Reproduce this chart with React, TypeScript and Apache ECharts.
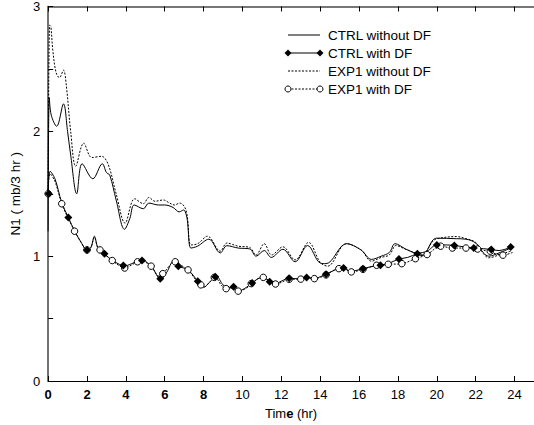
import React, { useEffect, useRef } from "react";
import * as echarts from "echarts";

const FONT = "Liberation Sans, Arial, sans-serif";

// time (hr), N1 (mb/3 hr)
const ctrlNoDF: [number, number][] = [
  [0, 1.2], [0.06, 2.27], [0.16, 2.13], [0.44, 2.04], [0.79, 2.22], [1.0, 2.0], [1.16, 1.81],
  [1.47, 1.5], [1.75, 1.74], [2.3, 1.62], [2.79, 1.74], [3.0, 1.67], [3.17, 1.65], [3.5, 1.45],
  [3.93, 1.215], [4.2, 1.3], [4.43, 1.41], [4.9, 1.38], [5.18, 1.425], [5.68, 1.41], [6.0, 1.41],
  [6.43, 1.39], [6.74, 1.355], [6.97, 1.37], [7.15, 1.3], [7.35, 1.065], [7.69, 1.08], [8.27, 1.136],
  [8.86, 1.026], [9.2, 1.084], [9.78, 1.065], [10.37, 1.058], [10.7, 1.0], [11.12, 1.045],
  [11.48, 0.99], [12.08, 1.055], [12.71, 0.955], [13.35, 1.085], [14.0, 0.945], [14.3, 0.94],
  [15.35, 1.1], [16.1, 1.05], [16.64, 0.974], [17.14, 1.0], [17.56, 1.03], [17.85, 1.1],
  [18.4, 1.057], [19.0, 1.015], [19.24, 1.005], [19.8, 1.13], [20.0, 1.144], [21.0, 1.14],
  [21.5, 1.136], [22.0, 1.105], [22.4, 1.026], [22.67, 1.0], [23.2, 1.026], [23.8, 1.065],
];

const exp1NoDF: [number, number][] = [
  [0, 1.5], [0.08, 2.85], [0.14, 2.84], [0.24, 2.65], [0.41, 2.47], [0.58, 2.43], [0.79, 2.49],
  [0.94, 2.36], [1.16, 2.0], [1.42, 1.72], [1.83, 1.905], [2.25, 1.79], [2.75, 1.8], [3.09, 1.735],
  [3.5, 1.5], [3.96, 1.265], [4.45, 1.46], [4.9, 1.42], [5.18, 1.47], [5.5, 1.44], [5.93, 1.45],
  [6.2, 1.43], [6.5, 1.41], [6.77, 1.425], [7.0, 1.4], [7.15, 1.33], [7.35, 1.09], [7.7, 1.1],
  [8.2, 1.16], [8.86, 1.04], [9.2, 1.105], [9.78, 1.08], [10.37, 1.07], [10.7, 1.01], [11.12, 1.1],
  [11.5, 1.01], [12.08, 1.075], [12.71, 0.97], [13.4, 1.11], [14.0, 0.95], [14.38, 0.92],
  [15.35, 1.1], [16.1, 1.05], [16.64, 0.96], [17.14, 0.99], [17.56, 1.01], [17.9, 1.085],
  [18.4, 1.055], [19.0, 1.02], [19.24, 1.01], [19.8, 1.12], [20.0, 1.14], [21.0, 1.157],
  [21.5, 1.14], [22.0, 1.11], [22.4, 1.02], [22.67, 0.987], [23.2, 1.01], [23.8, 1.04],
];

const ctrlDF: [number, number][] = [
  [0, 1.5], [0.1, 1.68], [0.35, 1.62], [0.7, 1.43], [1.04, 1.31], [1.37, 1.2], [1.7, 1.11],
  [2.0, 1.05], [2.2, 1.07], [2.38, 1.16], [2.55, 1.07], [2.7, 1.05], [2.9, 1.02], [3.3, 0.965],
  [3.6, 0.94], [3.9, 0.92], [4.3, 0.94], [4.8, 0.97], [5.3, 0.92], [5.8, 0.815], [6.1, 0.87],
  [6.45, 0.96], [6.7, 0.92], [7.2, 0.89], [7.7, 0.8], [8.0, 0.75], [8.3, 0.79], [8.65, 0.84],
  [9.0, 0.77], [9.3, 0.745], [9.55, 0.756], [9.85, 0.725], [10.2, 0.75], [10.5, 0.785],
  [10.8, 0.82], [11.05, 0.83], [11.4, 0.795], [11.7, 0.78], [12.0, 0.8], [12.4, 0.824],
  [12.7, 0.82], [13.0, 0.818], [13.3, 0.83], [13.7, 0.822], [14.0, 0.835], [14.3, 0.856],
  [14.7, 0.885], [15.1, 0.908], [15.6, 0.88], [16.2, 0.9], [16.6, 0.915], [17.1, 0.927],
  [17.5, 0.94], [18.0, 0.975], [18.5, 0.99], [19.0, 1.02], [19.5, 1.04], [20.0, 1.09],
  [20.5, 1.09], [20.9, 1.085], [21.4, 1.075], [21.9, 1.065], [22.4, 1.06], [22.8, 1.053],
  [23.2, 1.045], [23.5, 1.055], [23.9, 1.075],
];

const exp1DF: [number, number][] = [
  [0, 1.5], [0.1, 1.66], [0.35, 1.6], [0.7, 1.42], [1.04, 1.3], [1.37, 1.2], [1.7, 1.11],
  [2.0, 1.05], [2.2, 1.07], [2.38, 1.15], [2.55, 1.07], [2.7, 1.05], [2.9, 1.015], [3.3, 0.965],
  [3.6, 0.93], [3.94, 0.905], [4.3, 0.93], [4.6, 0.955], [4.8, 0.96], [5.3, 0.92], [5.7, 0.84],
  [5.9, 0.86], [6.54, 0.955], [6.8, 0.93], [7.2, 0.89], [7.6, 0.81], [7.86, 0.77], [8.05, 0.755],
  [8.3, 0.79], [8.6, 0.83], [8.9, 0.77], [9.16, 0.74], [9.5, 0.745], [9.78, 0.72], [10.1, 0.735],
  [10.5, 0.78], [10.8, 0.82], [11.07, 0.83], [11.4, 0.8], [11.7, 0.777], [12.0, 0.79],
  [12.4, 0.815], [12.7, 0.815], [13.0, 0.816], [13.3, 0.825], [13.7, 0.82], [14.0, 0.83],
  [14.3, 0.85], [14.96, 0.9], [15.2, 0.9], [15.6, 0.874], [16.2, 0.895], [16.9, 0.927],
  [17.5, 0.935], [18.2, 0.94], [18.9, 0.98], [19.5, 1.013], [20.2, 1.08], [20.8, 1.065],
  [21.5, 1.065], [22.1, 1.057], [22.6, 1.04], [23.0, 1.02], [23.4, 1.008], [23.9, 1.03],
];

const ctrlDFMarkers: [number, number][] = [
  [0.03, 1.5], [1.04, 1.31], [2.0, 1.05], [2.9, 1.02], [3.87, 0.925], [4.83, 0.965], [5.77, 0.82],
  [6.7, 0.92], [7.7, 0.8], [8.6, 0.835], [9.54, 0.756], [10.5, 0.785], [11.4, 0.795],
  [12.4, 0.824], [13.3, 0.83], [14.3, 0.856], [15.2, 0.906], [16.2, 0.9], [17.1, 0.927],
  [18.05, 0.977], [19.0, 1.02], [20.0, 1.09], [20.9, 1.085], [21.9, 1.065], [22.8, 1.053],
  [23.8, 1.073],
];

const exp1DFMarkers: [number, number][] = [
  [0.0, 1.5], [0.7, 1.42], [1.36, 1.2], [2.0, 1.05], [2.67, 1.05], [3.3, 0.965], [3.94, 0.905],
  [4.6, 0.955], [5.3, 0.92], [5.9, 0.86], [6.54, 0.955], [7.2, 0.89], [7.86, 0.77], [8.55, 0.83],
  [9.16, 0.74], [9.78, 0.72], [10.45, 0.78], [11.07, 0.83], [11.7, 0.777], [12.4, 0.815],
  [13.0, 0.816], [13.7, 0.82], [14.3, 0.85], [14.96, 0.9], [15.6, 0.874], [16.2, 0.895],
  [16.9, 0.927], [17.5, 0.935], [18.2, 0.94], [18.9, 0.98], [19.5, 1.013], [20.2, 1.08],
  [20.8, 1.065], [21.5, 1.065], [22.1, 1.057], [22.75, 1.04], [23.4, 1.008],
];

const legendNames = ["CTRL without DF", "CTRL with DF", "EXP1 without DF", "EXP1 with DF"];

export default function App() {
  const ref = useRef<HTMLDivElement>(null);
  useEffect(() => {
    if (!ref.current) return;
    const chart = echarts.init(ref.current, null, { renderer: "svg" });
    const dotted = [2, 1.5];
    const lineSeries = (name: string, data: [number, number][], type: any, z = 2) => ({
      name,
      type: "line",
      data,
      smooth: 0.35,
      showSymbol: false,
      symbol: "none",
      z,
      lineStyle: { color: "#000", width: 1, type },
    });
    const legendRows = [35, 53, 71, 89];
    const lx0 = 288, lx1 = 320, tx = 328;
    const graphic: any[] = [];
    legendRows.forEach((y, i) => {
      graphic.push({
        type: "line",
        shape: { x1: lx0, y1: y, x2: lx1, y2: y },
        style: { stroke: "#000", lineWidth: 1, lineDash: i >= 2 ? dotted : null },
      });
      if (i === 1) {
        [lx0, lx1].forEach((x) =>
          graphic.push({
            type: "polygon",
            shape: { points: [[x, y - 3.5], [x + 3.5, y], [x, y + 3.5], [x - 3.5, y]] },
            style: { fill: "#000" },
          })
        );
      }
      if (i === 3) {
        [lx0, lx1].forEach((x) =>
          graphic.push({
            type: "circle",
            shape: { cx: x, cy: y, r: 3 },
            style: { fill: "#fff", stroke: "#000", lineWidth: 1 },
          })
        );
      }
      graphic.push({
        type: "text",
        x: tx,
        y,
        style: {
          text: legendNames[i],
          fill: "#000",
          font: `13.5px ${FONT}`,
          textVerticalAlign: "middle",
          verticalAlign: "middle",
          align: "left",
        },
      });
    });

    chart.setOption({
      animation: false,
      backgroundColor: "#fff",
      grid: { left: 38.5, top: 6, width: 498, height: 381, containLabel: false },
      xAxis: [
        {
          type: "value",
          min: 0,
          max: 25,
          interval: 2,
          position: "bottom",
          name: "{a|Tim}{b|e}{a| (hr)}",
          nameLocation: "middle",
          nameGap: 26,
          nameTextStyle: {
            rich: {
              a: { fontSize: 13, fontFamily: FONT, color: "#000" },
              b: { fontSize: 13, fontFamily: FONT, color: "#000", fontWeight: "bold" },
            },
          },
          axisLine: { lineStyle: { color: "#000", width: 1 } },
          axisTick: { inside: true, length: 5, lineStyle: { color: "#000" } },
          splitLine: { show: false },
          axisLabel: {
            margin: 7,
            showMaxLabel: false,
            formatter: (v: number) => (v <= 8 ? `{b|${v}}` : `{n|${v}}`),
            rich: {
              b: { fontSize: 13, fontFamily: FONT, color: "#000", fontWeight: "bold" },
              n: { fontSize: 13, fontFamily: FONT, color: "#000" },
            },
          },
        },
        {
          type: "value",
          min: 0,
          max: 25,
          interval: 2,
          position: "top",
          axisLine: { lineStyle: { color: "#777", width: 2 } },
          axisTick: { inside: true, length: 5, lineStyle: { color: "#000" } },
          axisLabel: { show: false },
          splitLine: { show: false },
        },
      ],
      yAxis: {
        type: "value",
        min: 0,
        max: 3,
        interval: 0.5,
        name: "N1 ( mb/3 hr )",
        nameLocation: "middle",
        nameGap: 22,
        nameTextStyle: { fontSize: 13.5, fontFamily: FONT, color: "#000" },
        axisLine: { show: true, lineStyle: { color: "#444", width: 1.5 } },
        axisTick: { show: true, inside: true, length: 5, lineStyle: { color: "#000" } },
        splitLine: { show: false },
        axisLabel: {
          margin: 8,
          fontSize: 13,
          fontFamily: FONT,
          color: "#000",
          formatter: (v: number) => (Number.isInteger(v) ? String(v) : ""),
        },
      },
      graphic,
      series: [
        lineSeries("CTRL without DF", ctrlNoDF, "solid"),
        lineSeries("EXP1 without DF", exp1NoDF, dotted),
        lineSeries("EXP1 with DF", exp1DF, dotted),
        lineSeries("CTRL with DF", ctrlDF, "solid"),
        {
          name: "EXP1 with DF markers",
          type: "scatter",
          data: exp1DFMarkers,
          symbol: "circle",
          symbolSize: 6.5,
          z: 4,
          itemStyle: { color: "#fff", borderColor: "#000", borderWidth: 1, opacity: 1 },
        },
        {
          name: "CTRL with DF markers",
          type: "scatter",
          data: ctrlDFMarkers,
          symbol: "diamond",
          symbolSize: 8,
          z: 5,
          itemStyle: { color: "#000", opacity: 1 },
        },
      ],
    });
    return () => chart.dispose();
  }, []);
  return (
    <div
      ref={ref}
      style={{ position: "fixed", left: 0, top: 0, width: 534, height: 425, background: "#fff" }}
    />
  );
}
